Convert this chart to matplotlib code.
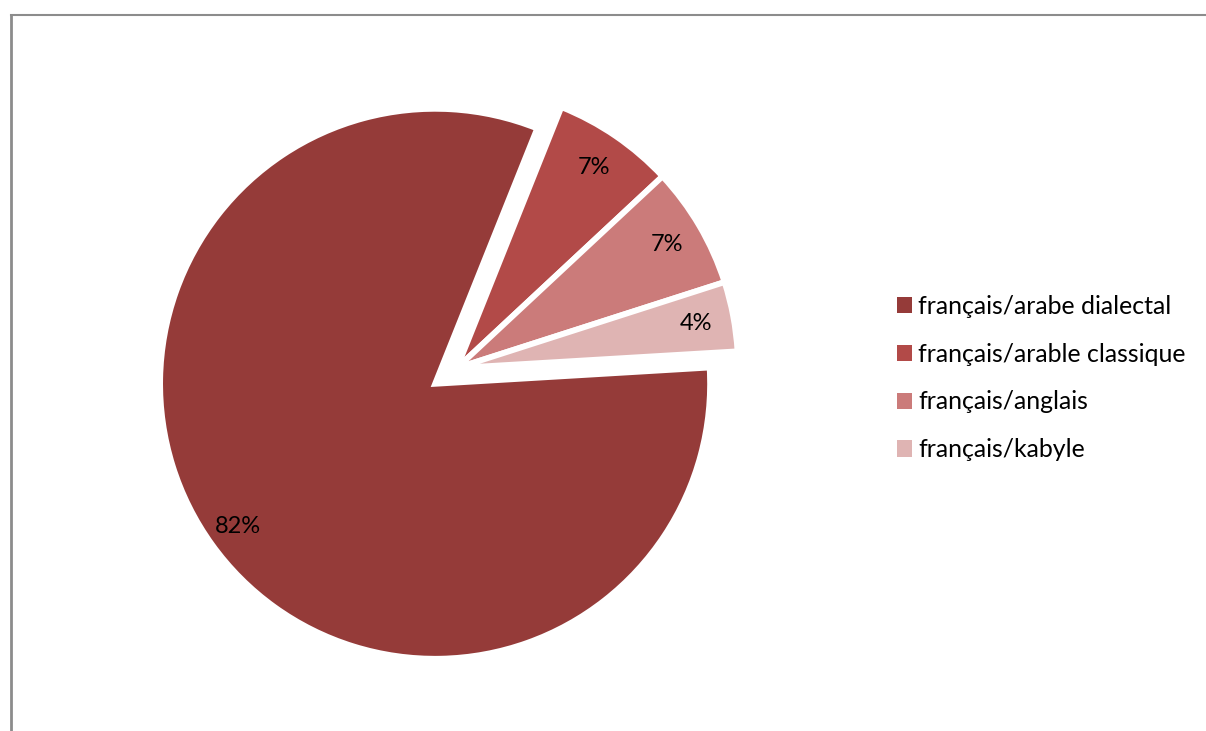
import matplotlib.pyplot as plt
from matplotlib.patches import Patch
from matplotlib.lines import Line2D

# data
categories = ['français/arabe dialectal', 'français/arable classique',
              'français/anglais', 'français/kabyle']
shares = [82, 7, 7, 4]
colors = ['#953B39', '#B24A48', '#CB7B7A', '#DFB4B3']
explode = [27, 0, 0, 0]   # pie() takes explode in data units (pixels here)

plt.rcParams['font.family'] = ['Lato', 'DejaVu Sans']

fig = plt.figure(figsize=(12.06, 7.31), dpi=100)
ax = fig.add_axes([0, 0, 1, 1])
ax.axis('off')

wedges, texts, autotexts = ax.pie(
    shares, colors=colors, explode=explode, startangle=3.4,
    counterclock=False, center=(457, 363), radius=275,
    autopct='%1.0f%%', pctdistance=0.885,
    wedgeprops=dict(edgecolor='white', linewidth=4.2),
    textprops=dict(fontsize=17, color='black'))
# the small slices stick out a little further than the big one
for w in wedges[1:]:
    w.set_radius(281)
# axes in pixel units, y pointing up
ax.set_xlim(0, 1206)
ax.set_ylim(0, 731)
ax.set_aspect('auto')

handles = [Patch(facecolor=c, edgecolor='none') for c in colors]
ax.legend(handles, categories, loc='center left', bbox_to_anchor=(897 / 1206, 1 - 378 / 731),
          frameon=False, fontsize=17.9, handlelength=0.62, handleheight=0.62,
          handletextpad=0.22, labelspacing=1.0, borderpad=0, borderaxespad=0)

# frame lines of the original (cropped) chart area
fig.add_artist(Line2D([11 / 1206, 1], [1 - 15 / 731, 1 - 15 / 731], color='#8c8c8c', lw=1.5))
fig.add_artist(Line2D([11 / 1206, 11 / 1206], [0, 1 - 15 / 731], color='#8c8c8c', lw=2))

fig.savefig('out.png', dpi=100)
